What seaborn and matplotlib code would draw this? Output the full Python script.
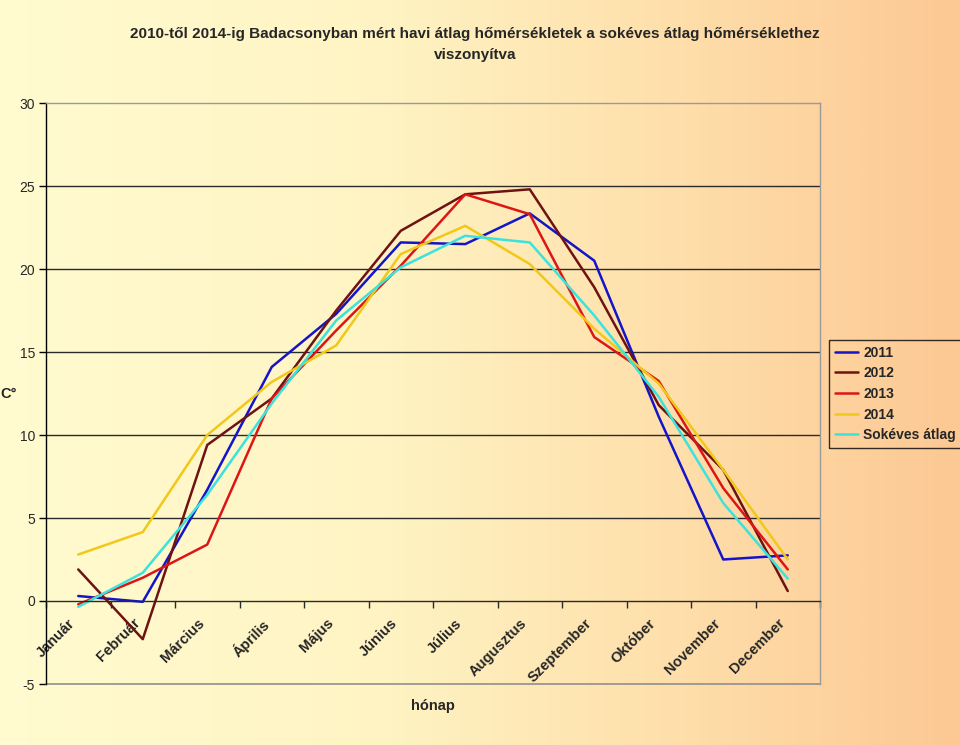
import numpy as np
import pandas as pd
import matplotlib
matplotlib.use("Agg")
import matplotlib.pyplot as plt
import matplotlib.transforms as mtransforms
from matplotlib.colors import LinearSegmentedColormap
import seaborn as sns

# ---- data ----
months = ["Január", "Február", "Március", "Április", "Május", "Június",
          "Július", "Augusztus", "Szeptember", "Október", "November", "December"]
t2011 = [0.3, -0.05, 6.7, 14.1, 17.3, 21.6, 21.5, 23.35, 20.5, 11.1, 2.5, 2.75]
t2012 = [1.9, -2.3, 9.4, 12.2, 17.5, 22.3, 24.5, 24.8, 18.9, 11.8, 7.9, 0.6]
t2013 = [-0.2, 1.4, 3.4, 12.2, 16.3, 20.2, 24.5, 23.3, 15.9, 13.25, 6.8, 1.9]
t2014 = [2.8, 4.15, 10.0, 13.2, 15.4, 20.9, 22.6, 20.3, 16.4, 13.1, 7.9, 2.5]
sokeves = [-0.35, 1.7, 6.4, 11.9, 16.9, 20.1, 22.0, 21.6, 17.2, 12.3, 5.9, 1.35]
series_names = ["2011", "2012", "2013", "2014", "Sokéves átlag"]
series_colors = ["#1414C8", "#6E1212", "#DC1616", "#F2C818", "#3CE2DC"]
yticks = [-5, 0, 5, 10, 15, 20, 25, 30]

title = "2010-től 2014-ig Badacsonyban mért havi átlag hőmérsékletek a sokéves átlag hőmérséklethez\nviszonyítva"

rows = []
for name, vals in zip(series_names, [t2011, t2012, t2013, t2014, sokeves]):
    for i, v in enumerate(vals):
        rows.append({"idx": i, "hónap": months[i], "C°": v, "sorozat": name})
df = pd.DataFrame(rows)

sns.set_theme(style="white")
plt.rcParams["font.family"] = ["Liberation Sans", "DejaVu Sans"]

W, H = 960, 745
fig = plt.figure(figsize=(W / 100, H / 100), dpi=100)

# background gradient
bg = fig.add_axes([0, 0, 1, 1], zorder=-10)
cmap = LinearSegmentedColormap.from_list(
    "bg", [(0.0, (1.0, 0.985, 0.815)), (0.4, (1.0, 0.955, 0.765)),
           (0.7, (0.997, 0.875, 0.67)), (1.0, (0.99, 0.785, 0.58))])
grad = np.linspace(0, 1, 512).reshape(1, -1)
bg.imshow(grad, aspect="auto", cmap=cmap, extent=[0, 1, 0, 1])
bg.set_axis_off()

L, R, T, B = 46, 820, 103, 684
ax = fig.add_axes([L / W, 1 - B / H, (R - L) / W, (B - T) / H])
ax.set_facecolor("none")

sns.lineplot(data=df, x="idx", y="C°", hue="sorozat", palette=series_colors,
             hue_order=series_names, linewidth=1.8, sort=False, ax=ax, legend=True)

ax.set_xlim(-0.5, 11.5)
ax.set_ylim(-5, 30)
ax.set_yticks(yticks)
ax.set_yticklabels([str(v) for v in yticks], fontsize=10)
ax.tick_params(axis="y", direction="out", length=5, width=1, color="black", pad=3, left=True)

for y in [5, 10, 15, 20, 25]:
    ax.axhline(y, color="#2a2a2a", linewidth=1.0, zorder=0.5)

# x axis at y=0
ax.spines["bottom"].set_position(("data", 0))
ax.spines["bottom"].set_color("#2a2a2a")
ax.spines["bottom"].set_linewidth(1.0)
ax.spines["left"].set_color("black")
ax.spines["left"].set_linewidth(1.0)
for s in ["top", "right"]:
    ax.spines[s].set_color("#9a9a9a")
    ax.spines[s].set_linewidth(1.0)
ax.plot([0, 1], [0, 0], transform=ax.transAxes, color="#8f8f8f", linewidth=1.2, clip_on=False)

ax.set_xticks(np.arange(len(months)))
ax.set_xticklabels(months, rotation=45, ha="right", va="top",
                   rotation_mode="anchor", fontsize=10.5, fontweight="bold")
ax.set_xticks(np.arange(-0.5, 12, 1), minor=True)
ax.tick_params(axis="x", which="major", length=0, pad=0, bottom=True)
ax.tick_params(axis="x", which="minor", length=5, width=1, color="#2a2a2a", direction="out", bottom=True)
offset = mtransforms.ScaledTranslation(-0.10, -0.15, fig.dpi_scale_trans)
for lab in ax.get_xticklabels():
    lab.set_transform(lab.get_transform() + offset)

ax.set_xlabel("hónap", fontsize=10.5, fontweight="bold")
ax.xaxis.set_label_coords(0.5, -(706 - B) / (B - T))
ax.xaxis.label.set_va("center")
ax.set_ylabel("C°", fontsize=10.5, fontweight="bold", rotation=0, ha="center", va="center")
ax.yaxis.set_label_coords((9 - L) / (R - L), 0.5)

fig.suptitle(title, x=475 / W, y=1 - 27 / H, fontsize=11, fontweight="bold",
             va="top", linespacing=1.6)

handles, labels = ax.get_legend_handles_labels()
leg = ax.legend(handles, labels, loc="upper left", bbox_to_anchor=(829 / W, 1 - 340 / H),
                bbox_transform=fig.transFigure, frameon=True, fancybox=False,
                fontsize=10, handlelength=1.7, handletextpad=0.35, labelspacing=0.48,
                borderpad=0.4, borderaxespad=0)
leg.get_frame().set_edgecolor("black")
leg.get_frame().set_linewidth(1.0)
leg.get_frame().set_facecolor("none")
for t in leg.get_texts():
    t.set_fontweight("bold")

fig.savefig("out.png", dpi=100)
